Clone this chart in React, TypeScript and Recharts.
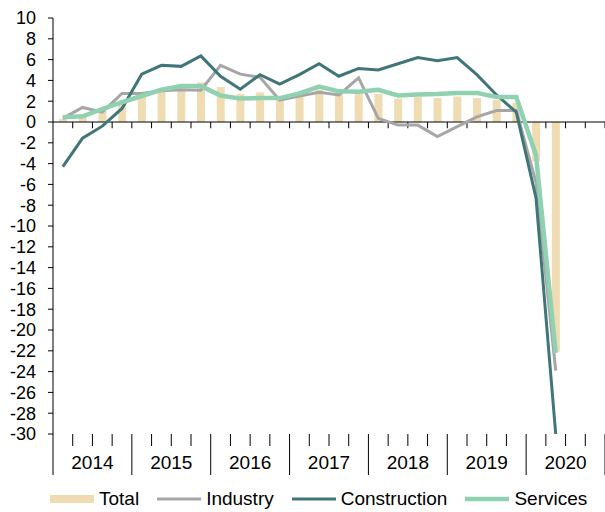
import {
  ComposedChart,
  Bar,
  Line,
  XAxis,
  YAxis,
  ReferenceLine,
  Legend,
} from "recharts";

const YEARS = ["2014", "2015", "2016", "2017", "2018", "2019", "2020"];
const QUARTERS = YEARS.flatMap((y) => ["Q1", "Q2", "Q3", "Q4"].map((q) => `${y}${q}`));

// 2014Q1 .. 2020Q2, % y/y
const TOTAL = [
  0.3, 0.6, 1.1, 1.8, 2.45, 2.95, 3.15, 3.8, 3.35, 2.7, 2.85, 2.1, 2.5, 3.1,
  2.75, 2.95, 2.7, 2.25, 2.4, 2.3, 2.45, 2.3, 2.1, 1.85, -3.8, -22.1,
];
const INDUSTRY = [
  0.35, 1.4, 0.95, 2.75, 2.75, 3.0, 3.1, 3.05, 5.45, 4.6, 4.3, 2.1, 2.5, 2.85,
  2.6, 4.25, 0.35, -0.3, -0.3, -1.4, -0.45, 0.5, 1.1, 1.1, -5.8, -23.9,
];
const CONSTRUCTION = [
  -4.3, -1.55, -0.4, 1.3, 4.6, 5.45, 5.35, 6.35, 4.4, 3.15, 4.55, 3.65, 4.55,
  5.6, 4.4, 5.15, 5.0, 5.6, 6.2, 5.9, 6.2, 4.55, 2.6, 0.95, -7.3, -30.0,
];
const SERVICES = [
  0.45, 0.55, 1.25, 1.9, 2.5, 3.1, 3.45, 3.45, 2.55, 2.25, 2.3, 2.3, 2.75, 3.4,
  2.95, 2.9, 3.1, 2.55, 2.65, 2.7, 2.8, 2.8, 2.4, 2.4, -3.2, -22.2,
];

const Y_TICKS = Array.from({ length: 21 }, (_, i) => -30 + i * 2);
const LEGEND_ORDER = ["Total", "Industry", "Construction", "Services"];

const COLORS = {
  total: "#EFDCB2",
  industry: "#A6A6A6",
  construction: "#40767A",
  services: "#8FD1B0",
};

const FONT = '"Liberation Sans", Arial, sans-serif';

const data = QUARTERS.map((q, i) => ({
  q,
  total: TOTAL[i] ?? null,
  industry: INDUSTRY[i] ?? null,
  construction: CONSTRUCTION[i] ?? null,
  services: SERVICES[i] ?? null,
}));

function QuarterTick(props: any) {
  const { x, y, payload, index } = props;
  const half = payload?.offset || 552 / QUARTERS.length / 2;
  const left = x - half;
  const yearStart = index % 4 === 0;
  const last = index === QUARTERS.length - 1;
  return (
    <g>
      <line
        x1={left}
        x2={left}
        y1={y}
        y2={yearStart ? y + 41 : y + 12}
        stroke="#000"
        strokeWidth={1}
      />
      {last && (
        <line x1={x + half} x2={x + half} y1={y} y2={y + 41} stroke="#000" />
      )}
      {index % 4 === 1 && (
        <text
          x={x + half}
          y={y + 35}
          textAnchor="middle"
          fontSize={19}
          fill="#000"
        >
          {YEARS[Math.floor(index / 4)]}
        </text>
      )}
    </g>
  );
}

function renderLegend(props: any) {
  const items = [...(props.payload ?? [])].sort(
    (a: any, b: any) => LEGEND_ORDER.indexOf(a.value) - LEGEND_ORDER.indexOf(b.value)
  );
  return (
    <div
      style={{
        display: "flex",
        alignItems: "center",
        paddingLeft: 50,
        paddingTop: 6,
        fontSize: 19,
        fontFamily: FONT,
        color: "#000",
      }}
    >
      {items.map((e: any) => (
        <div
          key={e.value}
          style={{ display: "flex", alignItems: "center", marginRight: 18 }}
        >
          <svg width={44} height={10}>
            {e.type === "rect" ? (
              <rect x={0} y={1} width={44} height={8} fill={e.color} />
            ) : (
              <line
                x1={0}
                x2={44}
                y1={5}
                y2={5}
                stroke={e.color}
                strokeWidth={e.value === "Services" ? 4.5 : 3}
              />
            )}
          </svg>
          <span style={{ marginLeft: 5 }}>{e.value}</span>
        </div>
      ))}
    </div>
  );
}

export default function App() {
  const last = QUARTERS.length - 1;
  return (
    <div
      style={{
        position: "absolute",
        left: 0,
        top: 0,
        width: 605,
        height: 512,
        background: "#fff",
        fontFamily: FONT,
      }}
    >
      <ComposedChart
        width={605}
        height={512}
        data={data}
        margin={{ top: 18, right: 0, bottom: 0, left: 0 }}
        barCategoryGap="0%"
      >
        <XAxis
          dataKey="q"
          interval={0}
          axisLine={false}
          tickLine={false}
          tickSize={0}
          tickMargin={0}
          height={48}
          tick={<QuarterTick />}
        />
        <YAxis
          domain={[-30, 10]}
          ticks={Y_TICKS}
          interval={0}
          width={53}
          axisLine={{ stroke: "#000" }}
          tickLine={{ stroke: "#000" }}
          tickSize={5}
          tickMargin={12}
          tick={{ fill: "#000", fontSize: 18 }}
        />
        <Legend
          verticalAlign="bottom"
          align="left"
          height={30}
          content={renderLegend}
        />
        <Bar
          dataKey="total"
          name="Total"
          fill={COLORS.total}
          barSize={8}
          legendType="rect"
          isAnimationActive={false}
        />
        <ReferenceLine y={0} stroke="#000" strokeWidth={1} />
        {QUARTERS.slice(1).map((q) => (
          <ReferenceLine
            key={q}
            segment={[
              { x: q, y: 0 },
              { x: q, y: -0.6 },
            ]}
            position="start"
            stroke="#000"
          />
        ))}
        <ReferenceLine
          segment={[
            { x: QUARTERS[last], y: 0 },
            { x: QUARTERS[last], y: -0.6 },
          ]}
          position="end"
          stroke="#000"
        />
        <Line
          dataKey="industry"
          name="Industry"
          type="linear"
          stroke={COLORS.industry}
          strokeWidth={3}
          dot={false}
          legendType="line"
          isAnimationActive={false}
        />
        <Line
          dataKey="construction"
          name="Construction"
          type="linear"
          stroke={COLORS.construction}
          strokeWidth={3}
          dot={false}
          legendType="line"
          isAnimationActive={false}
        />
        <Line
          dataKey="services"
          name="Services"
          type="linear"
          stroke={COLORS.services}
          strokeWidth={4.5}
          dot={false}
          legendType="line"
          isAnimationActive={false}
        />
      </ComposedChart>
    </div>
  );
}
